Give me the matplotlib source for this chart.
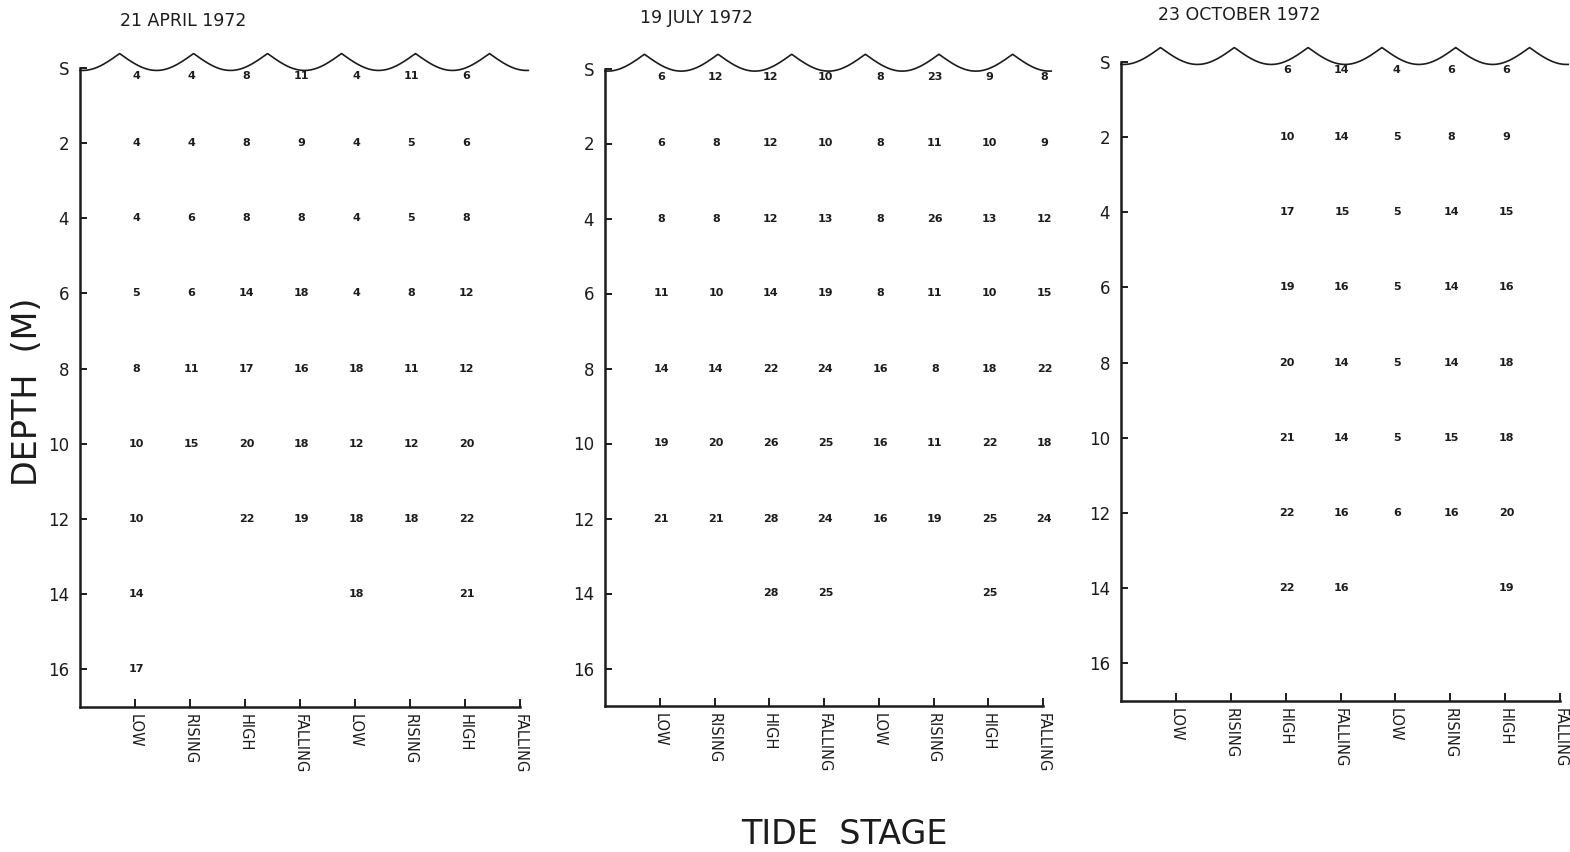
import numpy as np
import matplotlib
matplotlib.use("Agg")
import matplotlib.pyplot as plt

# tide stages along the bottom and sampling depths (m)
stages = ["LOW", "RISING", "HIGH", "FALLING", "LOW", "RISING", "HIGH", "FALLING"]
depths = [0, 2, 4, 6, 8, 10, 12, 14, 16]
depth_labels = ["S", "2", "4", "6", "8", "10", "12", "14", "16"]

# one row per depth, one column per tide stage (None = no sample)
april_1972 = [
    [4, 4, 8, 11, 4, 11, 6, None],
    [4, 4, 8, 9, 4, 5, 6, None],
    [4, 6, 8, 8, 4, 5, 8, None],
    [5, 6, 14, 18, 4, 8, 12, None],
    [8, 11, 17, 16, 18, 11, 12, None],
    [10, 15, 20, 18, 12, 12, 20, None],
    [10, None, 22, 19, 18, 18, 22, None],
    [14, None, None, None, 18, None, 21, None],
    [17, None, None, None, None, None, None, None],
]
july_1972 = [
    [6, 12, 12, 10, 8, 23, 9, 8],
    [6, 8, 12, 10, 8, 11, 10, 9],
    [8, 8, 12, 13, 8, 26, 13, 12],
    [11, 10, 14, 19, 8, 11, 10, 15],
    [14, 14, 22, 24, 16, 8, 18, 22],
    [19, 20, 26, 25, 16, 11, 22, 18],
    [21, 21, 28, 24, 16, 19, 25, 24],
    [None, None, 28, 25, None, None, 25, None],
    [None, None, None, None, None, None, None, None],
]
october_1972 = [
    [None, None, 6, 14, 4, 6, 6, None],
    [None, None, 10, 14, 5, 8, 9, None],
    [None, None, 17, 15, 5, 14, 15, None],
    [None, None, 19, 16, 5, 14, 16, None],
    [None, None, 20, 14, 5, 14, 18, None],
    [None, None, 21, 14, 5, 15, 18, None],
    [None, None, 22, 16, 6, 16, 20, None],
    [None, None, 22, 16, None, None, 19, None],
    [None, None, None, None, None, None, None, None],
]

W, H = 1570, 852
INK = "#1c1c1c"

fig = plt.figure(figsize=(W / 100, H / 100), dpi=100)
fig.patch.set_facecolor("white")


def rect(left, right, top, bottom):
    return [left / W, 1 - bottom / H, (right - left) / W, (bottom - top) / H]


def draw_waves(ax):
    # scalloped water surface: cusps on top, rounded troughs
    period = 1.345
    first = -1 + 0.72
    crest, trough = -0.38, 0.07
    x = np.linspace(-1, 7.15, 800)
    t = ((x - first) / period) % 1.0
    y = trough - (trough - crest) * (1 - np.sin(np.pi * t))
    ax.plot(x, y, color=INK, lw=1.2, clip_on=False)


def draw_panel(box, title, title_xy, table):
    ax = fig.add_axes(rect(*box))
    ax.set_xlim(-1, 7)
    ax.set_ylim(17.0, -1.2)
    ax.set_facecolor("none")

    for side in ("top", "right"):
        ax.spines[side].set_visible(False)
    ax.spines["left"].set_bounds(0, 17.0)
    ax.spines["bottom"].set_bounds(-1, 7)
    for side in ("left", "bottom"):
        ax.spines[side].set_linewidth(1.8)
        ax.spines[side].set_color(INK)

    ax.set_yticks(depths)
    ax.set_yticklabels(depth_labels)
    ax.set_xticks(range(len(stages)))
    ax.set_xticklabels(stages, rotation=270, fontsize=10.5)
    ax.tick_params(axis="y", direction="in", length=5, width=1.4, pad=8,
                   labelsize=12, colors=INK)
    ax.tick_params(axis="x", direction="in", length=6, width=1.4, pad=5,
                   colors=INK)

    draw_waves(ax)

    for depth, row in zip(depths, table):
        for col, val in enumerate(row):
            if val is None:
                continue
            dy = -6 if depth == 0 else 0
            ax.annotate(str(val), (col, depth), xytext=(1, dy),
                        textcoords="offset points", ha="center", va="center",
                        fontsize=8, fontweight="bold", color=INK)

    fig.text(title_xy[0] / W, 1 - title_xy[1] / H, title, fontsize=12.5,
             ha="left", va="center", color=INK)
    return ax


draw_panel((80, 520, 22.7, 707), "21 APRIL 1972", (120, 21), april_1972)
draw_panel((605, 1043, 23.5, 706), "19 JULY 1972", (640, 18), july_1972)
draw_panel((1121, 1560, 16.7, 701), "23 OCTOBER 1972", (1158, 15), october_1972)

fig.text(28 / W, 1 - 392 / H, "DEPTH  (M)", rotation=90, fontsize=24,
         ha="center", va="center", color=INK)
fig.text(844 / W, 1 - 834 / H, "TIDE  STAGE", fontsize=24,
         ha="center", va="center", color=INK)

fig.savefig("out.png", dpi=100, facecolor="white")
